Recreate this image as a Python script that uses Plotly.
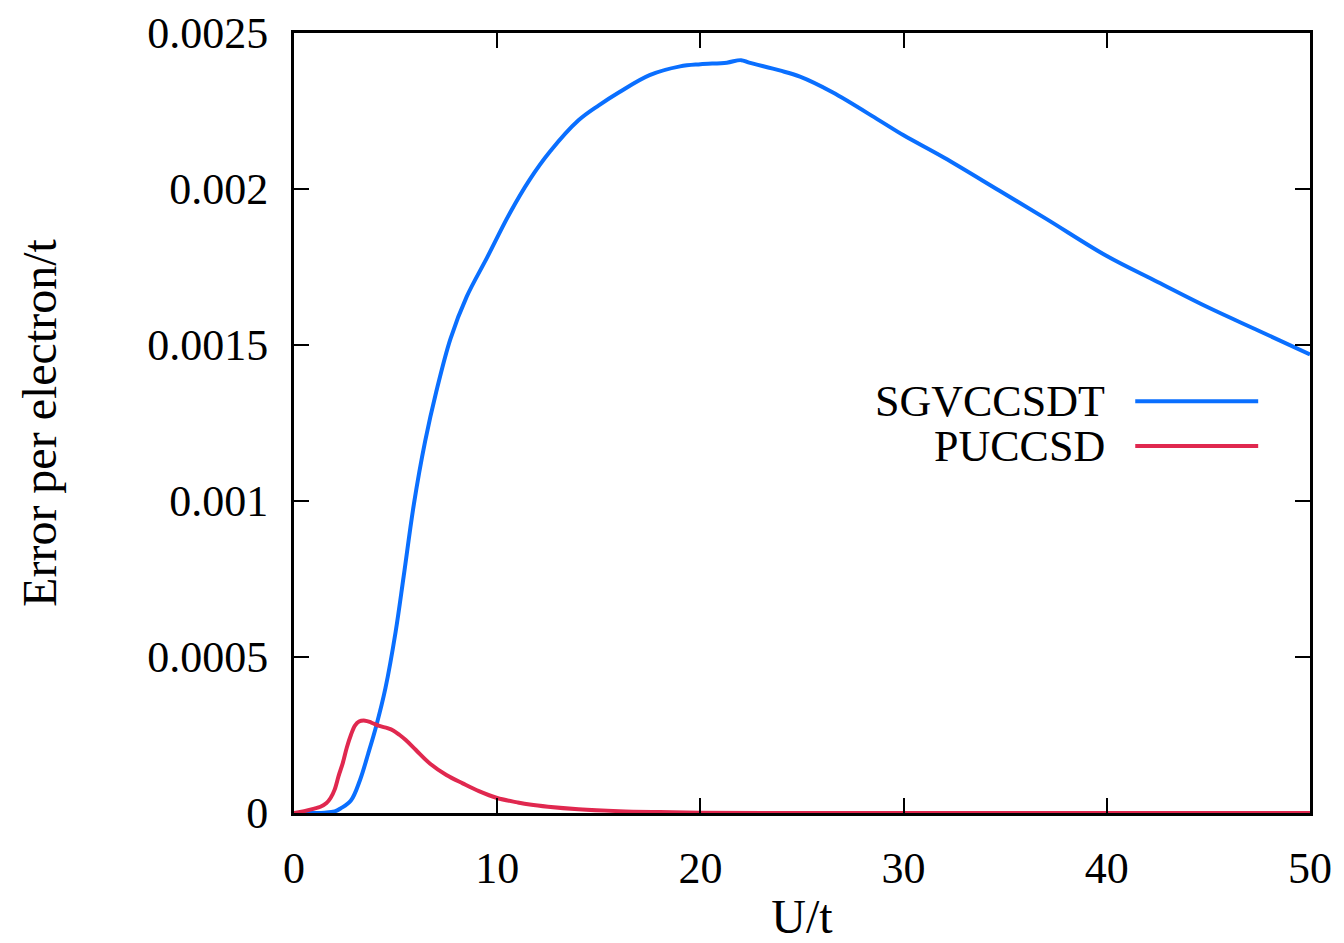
import plotly.graph_objects as go

# ---- data ----
u_sgv = [0, 1.0, 1.5, 2.0, 2.3, 2.8, 3.25, 3.65, 4.05, 4.5, 5.0, 5.4, 5.9, 6.45, 7.0, 7.7, 8.5,
         9.5, 10.6, 11.6, 12.6, 14, 15, 16, 17.5, 19, 20, 21.3, 22, 22.4, 23.9, 24.9, 26.5,
         28.8, 30, 32, 34.7, 37, 40, 42.5, 45, 47.5, 50]
e_sgv = [0, 0, 0.000001, 0.000005, 0.000015, 0.00004, 0.000106, 0.00019, 0.00028, 0.0004,
         0.00058, 0.00076, 0.00099, 0.00119, 0.00135, 0.00152, 0.001655, 0.00178, 0.00192,
         0.00203, 0.00212, 0.00222, 0.002268, 0.00231, 0.002365, 0.002393, 0.0024, 0.002405,
         0.002413, 0.002405, 0.00238, 0.00236, 0.00231, 0.00222, 0.002172, 0.0021, 0.001995,
         0.001905, 0.001785, 0.001702, 0.00162, 0.001545, 0.00147]

u_pu = [0, 0.5, 1.0, 1.3, 1.6, 1.8, 2.0, 2.2, 2.4, 2.6, 2.8, 3.0, 3.2, 3.5, 3.8, 4.2, 4.6, 4.9,
        5.2, 5.5, 6.0, 6.7, 7.5, 8.3, 9.1, 10, 11, 11.6, 12.5, 14, 16, 18, 20, 25, 30, 40, 50]
e_pu = [0, 0.000006, 0.000014, 0.00002, 0.000032, 0.000048, 0.000075, 0.00012, 0.00016,
        0.00021, 0.00025, 0.00028, 0.000293, 0.000296, 0.00029, 0.000279, 0.000272, 0.000264,
        0.00025, 0.000234, 0.000202, 0.000158, 0.000122, 0.000095, 0.00007, 0.000048,
        0.000034, 0.000027, 0.00002, 0.000012, 0.000006, 0.000003, 0.000001, 0, 0, 0, 0]

series_names = ["SGVCCSDT", "PUCCSD"]
series_colors = ["#0a6fff", "#e0284f"]

x_ticks = [0, 10, 20, 30, 40, 50]
y_ticks = [0, 0.0005, 0.001, 0.0015, 0.002, 0.0025]
y_tick_labels = ["0", "0.0005", "0.001", "0.0015", "0.002", "0.0025"]

FONT = "Liberation Serif"
FS = 44
TFS = 48

fig = go.Figure()
for (u, e), name, col in zip([(u_sgv, e_sgv), (u_pu, e_pu)], series_names, series_colors):
    fig.add_trace(go.Scatter(x=u, y=e, mode="lines", name=name,
                             line=dict(color=col, width=4, shape="spline", smoothing=1.0),
                             showlegend=False))

# gnuplot-style key: text on the left, line sample on the right
key_y = [0.528, 0.4705]
for name, col, ky in zip(series_names, series_colors, key_y):
    fig.add_annotation(xref="paper", yref="paper", x=0.800, y=ky, text=name,
                       showarrow=False, xanchor="right", yanchor="middle",
                       font=dict(family=FONT, size=FS, color="black"))
    fig.add_shape(type="line", xref="paper", yref="paper", x0=0.828, x1=0.949,
                  y0=ky, y1=ky, line=dict(color=col, width=4))

axis_common = dict(showline=True, linecolor="black", linewidth=3, mirror="ticks",
                   ticks="inside", ticklen=15, tickwidth=2, tickcolor="black",
                   showgrid=False, zeroline=False,
                   tickfont=dict(family=FONT, size=FS, color="black"))

fig.update_xaxes(range=[0, 50], tickvals=x_ticks,
                 title=dict(text="U/t", font=dict(family=FONT, size=TFS, color="black"), standoff=30),
                 ticklabelstandoff=14, **axis_common)
fig.update_yaxes(range=[0, 0.0025], tickvals=y_ticks, ticktext=y_tick_labels,
                 title=dict(text="Error per electron/t", font=dict(family=FONT, size=TFS, color="black"), standoff=76),
                 ticklabelstandoff=14, **axis_common)

fig.update_layout(width=1344, height=943, paper_bgcolor="white", plot_bgcolor="white",
                  margin=dict(l=294, r=34, t=33, b=130, autoexpand=False),
                  font=dict(family=FONT, size=FS, color="black"))

fig.write_html("out.html")
